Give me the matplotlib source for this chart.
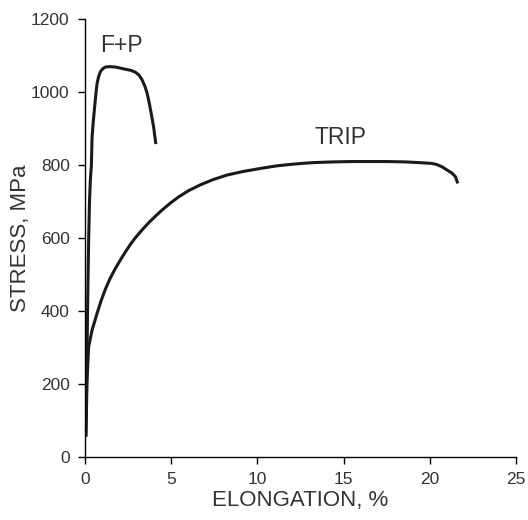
import matplotlib.pyplot as plt

# tensile curves, elongation in %, stress in MPa
fp_strain = [0.05, 0.08, 0.12, 0.16, 0.21, 0.26, 0.31, 0.37, 0.41, 0.48, 0.56,
             0.63, 0.70, 0.79, 0.89, 1.02, 1.18, 1.45, 1.76, 2.05, 2.34,
             2.65, 2.92, 3.13, 3.31, 3.47, 3.60, 3.72, 3.83, 3.98, 4.10]
fp_stress = [60, 150, 300, 440, 590, 700, 759, 800, 877, 920, 960,
             995, 1024, 1043, 1056, 1064, 1069, 1070, 1069, 1066, 1063,
             1060, 1055, 1047, 1034, 1017, 998, 972, 945, 905, 862]

trip_strain = [0.05, 0.08, 0.12, 0.21, 0.41, 0.70, 0.93, 1.18, 1.46, 1.76,
               2.05, 2.34, 2.62, 2.92, 3.3, 3.69, 4.08, 4.47, 4.95, 5.43,
               6.0, 6.69, 7.4, 8.24, 9.2, 10.17, 11.1, 12.1, 13.2, 14.4,
               15.5, 16.5, 17.5, 18.6, 19.4, 20.1, 20.4, 20.7, 21.0, 21.3,
               21.5, 21.6]
trip_stress = [60, 120, 211, 302, 348, 394, 428, 460, 490, 517,
               540, 562, 582, 601, 622, 642, 660, 677, 696, 713,
               730, 746, 760, 773, 783, 791, 798, 803, 807, 809,
               810, 810, 810, 809, 807, 805, 802, 796, 787, 778,
               768, 754]

plt.rcParams['font.family'] = ['Liberation Sans', 'DejaVu Sans']

fig = plt.figure(figsize=(5.28, 5.20), dpi=100)
ax = fig.add_axes([0.161, 0.121, 0.816, 0.842])

ax.plot(fp_strain, fp_stress, color='#1a1a1a', lw=2.2, solid_joinstyle='round')
ax.plot(trip_strain, trip_stress, color='#1a1a1a', lw=2.2, solid_joinstyle='round')

ax.text(2.09, 1127, 'F+P', fontsize=16.5, color='#333333', ha='center', va='center')
ax.text(14.85, 877, 'TRIP', fontsize=16.5, color='#333333', ha='center', va='center')

ax.set_xlim(0, 25)
ax.set_ylim(0, 1200)
ax.set_xticks([0, 5, 10, 15, 20, 25])
ax.set_yticks([0, 200, 400, 600, 800, 1000, 1200])
ax.tick_params(direction='out', length=5, width=1, labelsize=12.5,
               labelcolor='#333333', pad=6)
for side in ['top', 'right']:
    ax.spines[side].set_visible(False)
for side in ['left', 'bottom']:
    ax.spines[side].set_linewidth(1)

ax.set_xlabel('ELONGATION, %', fontsize=16, color='#333333', labelpad=2)
ax.set_ylabel('STRESS, MPa', fontsize=16, color='#333333', labelpad=0)

fig.savefig('out.png', dpi=100)
